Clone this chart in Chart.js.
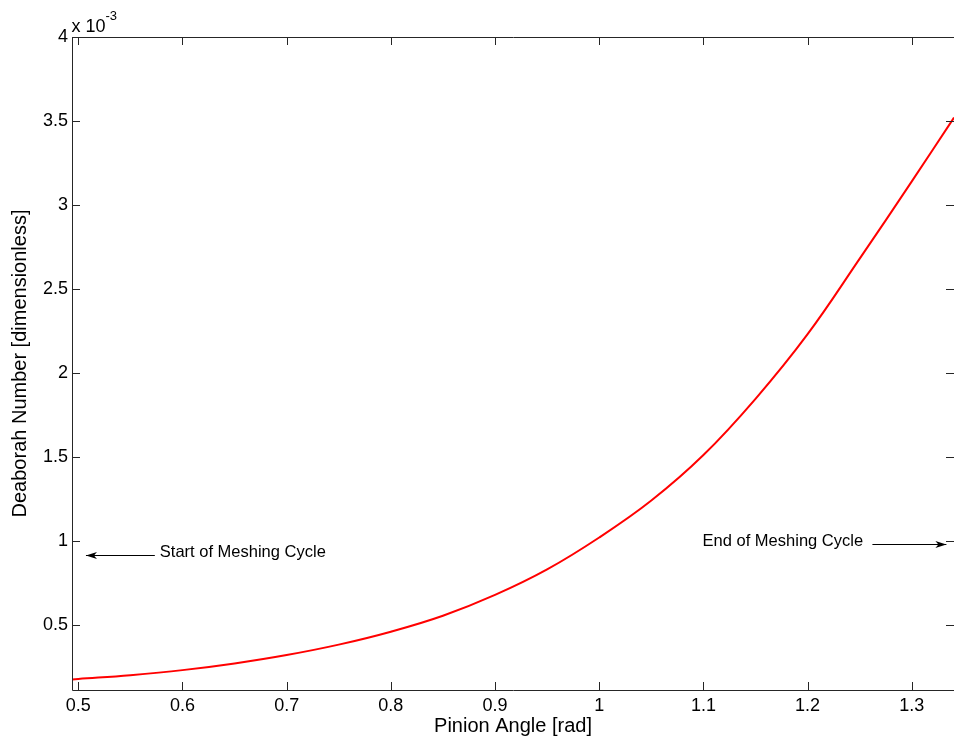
<!DOCTYPE html>
<html>
<head>
<meta charset="utf-8">
<script src="https://cdn.jsdelivr.net/npm/chart.js@4.4.1/dist/chart.umd.min.js"></script>
<style>
html,body{margin:0;padding:0;background:#fff;}
#wrap{width:954px;height:742px;position:relative;}
canvas{display:block;}
</style>
</head>
<body>
<div id="wrap"><canvas id="c" width="954" height="742"></canvas></div>
<script>
// ---- data ----
const pinionAngle = [0.494, 0.5, 0.55, 0.6, 0.65, 0.7, 0.75, 0.8, 0.85, 0.9, 0.95, 1.0, 1.05, 1.1, 1.15, 1.2, 1.25, 1.3, 1.3405];
const deborahNumber = [0.173, 0.176, 0.199, 0.229, 0.269, 0.319, 0.381, 0.458, 0.553, 0.677, 0.829, 1.019, 1.239, 1.510, 1.845, 2.230, 2.680, 3.140, 3.520]; // x 10^-3
const xTickValues = [0.5, 0.6, 0.7, 0.8, 0.9, 1.0, 1.1, 1.2, 1.3];
const yTickValues = [0.5, 1, 1.5, 2, 2.5, 3, 3.5, 4];
const yExponentLabel = ['x 10', '-3'];
const xRange = [0.494, 1.3405];
const yRange = [0.1106, 4];
const xTitle = 'Pinion Angle [rad]';
const yTitle = 'Deaborah Number [dimensionless]';
const annotations = [
  {text: 'Start of Meshing Cycle', textX: 0.5783, textY: 0.928, tailX: 0.5735, tipX: 0.5074, arrowY: 0.9156},
  {text: 'End of Meshing Cycle',  textX: 1.0992, textY: 0.993, tailX: 1.2622, tipX: 1.3332, arrowY: 0.981}
];

const FONT = "'Liberation Sans', Arial, Helvetica, sans-serif";
const AXIS_COLOR = '#262626';

function fmt(v){ return String(Math.round(v*10)/10); }

const matlabBox = {
  id: 'matlabBox',
  afterDraw(chart){
    const ctx = chart.ctx;
    const a = chart.chartArea;
    const xs = chart.scales.x, ys = chart.scales.y;
    const tl = 8;
    ctx.save();
    ctx.strokeStyle = AXIS_COLOR;
    ctx.lineWidth = 1;
    ctx.beginPath();
    ctx.rect(Math.round(a.left)+0.5, Math.round(a.top)+0.5, Math.round(a.right-a.left), Math.round(a.bottom-a.top));
    ctx.stroke();
    ctx.beginPath();
    xTickValues.forEach(v=>{
      const px = Math.round(xs.getPixelForValue(v))+0.5;
      ctx.moveTo(px, a.bottom); ctx.lineTo(px, a.bottom - tl);
      ctx.moveTo(px, a.top); ctx.lineTo(px, a.top + tl);
    });
    yTickValues.forEach(v=>{
      const py = Math.round(ys.getPixelForValue(v))+0.5;
      ctx.moveTo(a.left, py); ctx.lineTo(a.left + tl, py);
      ctx.moveTo(a.right, py); ctx.lineTo(a.right - tl, py);
    });
    ctx.stroke();

    // exponent label
    ctx.fillStyle = '#000';
    ctx.textBaseline = 'alphabetic';
    ctx.textAlign = 'left';
    ctx.font = '18px ' + FONT;
    ctx.fillText(yExponentLabel[0], a.left - 0.5, 31.5);
    const w = ctx.measureText(yExponentLabel[0]).width;
    ctx.font = '13px ' + FONT;
    ctx.fillText(yExponentLabel[1], a.left - 0.5 + w, 20);

    // annotations
    ctx.font = '16.5px ' + FONT;
    ctx.textBaseline = 'middle';
    annotations.forEach(an=>{
      const tx = xs.getPixelForValue(an.textX), ty = ys.getPixelForValue(an.textY);
      ctx.fillStyle = '#000';
      ctx.fillText(an.text, tx, ty);
      const x0 = xs.getPixelForValue(an.tailX), x1 = xs.getPixelForValue(an.tipX);
      const y = Math.round(ys.getPixelForValue(an.arrowY)) + 0.5;
      ctx.strokeStyle = '#000';
      ctx.lineWidth = 1;
      ctx.beginPath();
      ctx.moveTo(x0, y); ctx.lineTo(x1, y); ctx.stroke();
      const dir = Math.sign(x1 - x0);
      ctx.beginPath();
      ctx.moveTo(x1, y);
      ctx.lineTo(x1 - dir*11, y - 3.5);
      ctx.lineTo(x1 - dir*8, y);
      ctx.lineTo(x1 - dir*11, y + 3.5);
      ctx.closePath();
      ctx.fill();
    });
    ctx.restore();
  }
};

const points = pinionAngle.map((x,i)=>({x:x, y:deborahNumber[i]}));

new Chart(document.getElementById('c'), {
  type: 'line',
  data: {
    datasets: [{
      data: points,
      borderColor: '#ff0000',
      borderWidth: 2,
      pointRadius: 0,
      fill: false,
      tension: 0.4
    }]
  },
  options: {
    responsive: false,
    animation: false,
    devicePixelRatio: 1,
    layout: {padding: {top: 37, right: 0, bottom: 0, left: 0}},
    plugins: {legend: {display: false}, tooltip: {enabled: false}},
    scales: {
      x: {
        type: 'linear',
        min: xRange[0], max: xRange[1],
        afterBuildTicks: s => { s.ticks = xTickValues.map(v=>({value:v})); },
        afterFit: s => { s.height = 52; },
        grid: {display: false, drawTicks: false},
        border: {display: false},
        ticks: {
          autoSkip: false, maxRotation: 0, padding: 5,
          color: '#000', font: {family: FONT, size: 18},
          callback: v => fmt(v)
        },
        title: {display: true, text: xTitle, color: '#000', font: {family: FONT, size: 20}, padding: {top: 0, bottom: 4}}
      },
      y: {
        type: 'linear',
        min: yRange[0], max: yRange[1],
        afterBuildTicks: s => { s.ticks = yTickValues.map(v=>({value:v})); },
        afterFit: s => { s.width = 72; },
        grid: {display: false, drawTicks: false},
        border: {display: false},
        ticks: {
          autoSkip: false, padding: 4,
          color: '#000', font: {family: FONT, size: 18},
          callback: v => fmt(v)
        },
        title: {display: true, text: yTitle, color: '#000', font: {family: FONT, size: 20}, padding: {top: 8, bottom: 0}}
      }
    }
  },
  plugins: [matlabBox]
});
</script>
</body>
</html>
